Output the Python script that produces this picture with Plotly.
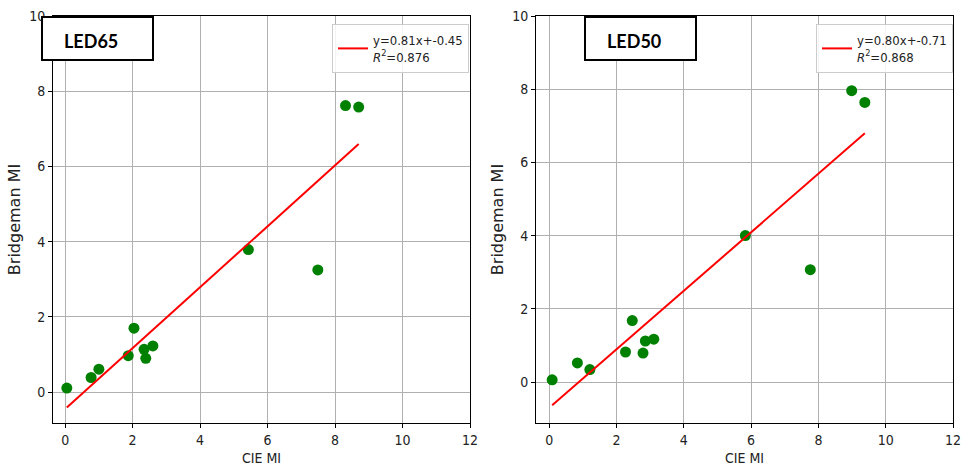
import plotly.graph_objects as go

# ---- data ----
led65_cie = [0.05, 0.77, 1.00, 1.87, 2.04, 2.34, 2.39, 2.60, 5.43, 7.49, 8.31, 8.70]
led65_bridgeman = [0.11, 0.39, 0.61, 0.97, 1.70, 1.14, 0.90, 1.23, 3.79, 3.25, 7.62, 7.58]
led50_cie = [0.09, 0.84, 1.21, 2.27, 2.47, 2.79, 2.86, 3.11, 5.83, 7.76, 8.99, 9.38]
led50_bridgeman = [0.06, 0.52, 0.34, 0.82, 1.68, 0.79, 1.12, 1.17, 4.00, 3.07, 7.96, 7.64]
panel_titles = ["LED65", "LED50"]
fit_slopes = [0.81, 0.80]
fit_intercepts = [-0.45, -0.71]
fit_r2 = [0.876, 0.868]
x_ticks = [0, 2, 4, 6, 8, 10, 12]
y_ticks = [0, 2, 4, 6, 8, 10]

W, H = 964, 470
NARROW = "DejaVu Sans Condensed, Liberation Sans Narrow, DejaVu Sans"
TICKFONT = dict(family=NARROW, size=14, color="#222222")

fig = go.Figure()

panels = [
    dict(x=led65_cie, y=led65_bridgeman, xa="x", ya="y", legend="legend",
         xdom=[53, 470], xr=[-0.36, 12], yr=[-0.82, 10], box=[42, 153], lx=332),
    dict(x=led50_cie, y=led50_bridgeman, xa="x2", ya="y2", legend="legend2",
         xdom=[536, 953], xr=[-0.39, 12], yr=[-1.12, 10], box=[585, 696], lx=816),
]

ydom = [1 - 423 / H, 1 - 16 / H]
layout_axes = {}
for i, p in enumerate(panels):
    fig.add_trace(go.Scatter(
        x=p["x"], y=p["y"], mode="markers", xaxis=p["xa"], yaxis=p["ya"],
        marker=dict(color="#008000", size=11, line=dict(width=0)),
        showlegend=False, hoverinfo="x+y"))
    xmin, xmax = min(p["x"]), max(p["x"])
    xs = [xmin, xmax]
    ys = [fit_slopes[i] * v + fit_intercepts[i] for v in xs]
    fig.add_trace(go.Scatter(
        x=xs, y=ys, mode="lines", xaxis=p["xa"], yaxis=p["ya"],
        line=dict(color="red", width=2),
        name=f"y={fit_slopes[i]:.2f}x+{fit_intercepts[i]:.2f}<br><i>R</i><sup>2</sup>={fit_r2[i]:.3f}",
        legend=p["legend"], showlegend=True))

    xname = "xaxis" if i == 0 else "xaxis2"
    yname = "yaxis" if i == 0 else "yaxis2"
    common = dict(showline=True, mirror=True, linecolor="black", linewidth=1,
                  showgrid=True, gridcolor="#b0b0b0", gridwidth=1,
                  ticks="outside", ticklen=4, tickcolor="black", tickwidth=1,
                  tickfont=TICKFONT, zeroline=False, automargin=False)
    layout_axes[xname] = dict(common, domain=[p["xdom"][0] / W, p["xdom"][1] / W],
                              range=p["xr"], tickvals=x_ticks, anchor=p["ya"],
                              title=dict(text="CIE MI", font=TICKFONT, standoff=6))
    layout_axes[yname] = dict(common, domain=ydom, range=p["yr"], tickvals=y_ticks,
                              anchor=p["xa"],
                              title=dict(text="Bridgeman MI",
                                         font=dict(family="DejaVu Sans", size=16, color="#222222"),
                                         standoff=4))
    # panel label box
    fig.add_shape(type="rect", xref="paper", yref="paper",
                  x0=p["box"][0] / W, x1=p["box"][1] / W, y0=1 - 60 / H, y1=1 - 17 / H,
                  line=dict(color="black", width=2), fillcolor="white", layer="above")
    fig.add_annotation(xref="paper", yref="paper", x=(p["box"][0] + 20) / W, y=1 - 41 / H,
                       xanchor="left", yanchor="middle", showarrow=False,
                       text=f"<b>{panel_titles[i]}</b>",
                       font=dict(family="Lato", size=18, color="black"))
    layout_axes[p["legend"]] = dict(
        x=p["lx"] / W, y=1 - 24 / H, xanchor="left", yanchor="top",
        bgcolor="rgba(255,255,255,0.85)", bordercolor="#cccccc", borderwidth=1,
        font=dict(family=NARROW, size=13, color="#222222"),
        valign="middle", itemwidth=30)

fig.update_layout(
    width=W, height=H, margin=dict(l=0, r=0, t=0, b=0),
    paper_bgcolor="white", plot_bgcolor="white", showlegend=True,
    **layout_axes)

fig.write_html("out.html")
